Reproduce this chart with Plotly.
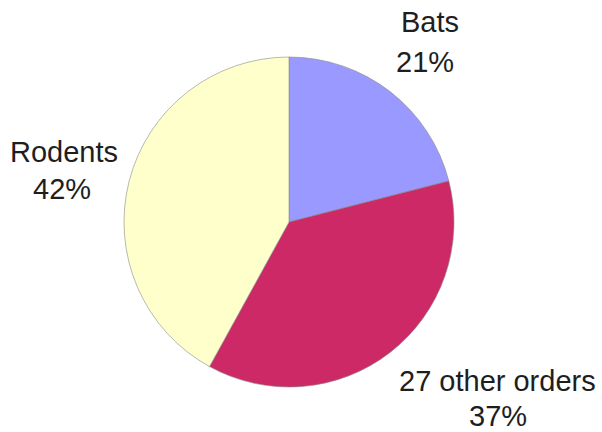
import plotly.graph_objects as go

labels = ["Bats", "27 other orders", "Rodents"]
values = [21, 37, 42]
colors = ["#9999FF", "#CC2966", "#FFFFCC"]
# pixel centers (x, y) of the name line and the percent line of each label
name_pos = [(430, 22), (497, 381), (64, 152)]
pct_pos = [(425, 62), (498, 416), (62, 189)]

W, H = 602, 432
cx, cy, r = 289, 222, 165

fig = go.Figure(go.Pie(
    labels=labels, values=values, sort=False, direction="clockwise", rotation=0,
    marker=dict(colors=colors, line=dict(color="#8a8a8a", width=0.6)),
    textinfo="none", hoverinfo="label+percent",
    domain=dict(x=[(cx - r) / W, (cx + r) / W], y=[(H - cy - r) / H, (H - cy + r) / H]),
    showlegend=False,
))

font = dict(family="Liberation Sans, Arial", size=29, color="#1e1e1e")
total = sum(values)
for lab, v, (nx, ny), (px, py) in zip(labels, values, name_pos, pct_pos):
    fig.add_annotation(x=nx / W, y=1 - ny / H, xref="paper", yref="paper", text=lab,
                       showarrow=False, font=font, xanchor="center", yanchor="middle")
    fig.add_annotation(x=px / W, y=1 - py / H, xref="paper", yref="paper",
                       text=f"{round(100 * v / total)}%",
                       showarrow=False, font=font, xanchor="center", yanchor="middle")

fig.update_layout(
    width=W, height=H, margin=dict(l=0, r=0, t=0, b=0),
    paper_bgcolor="white", plot_bgcolor="white",
)
fig.write_html("out.html")
